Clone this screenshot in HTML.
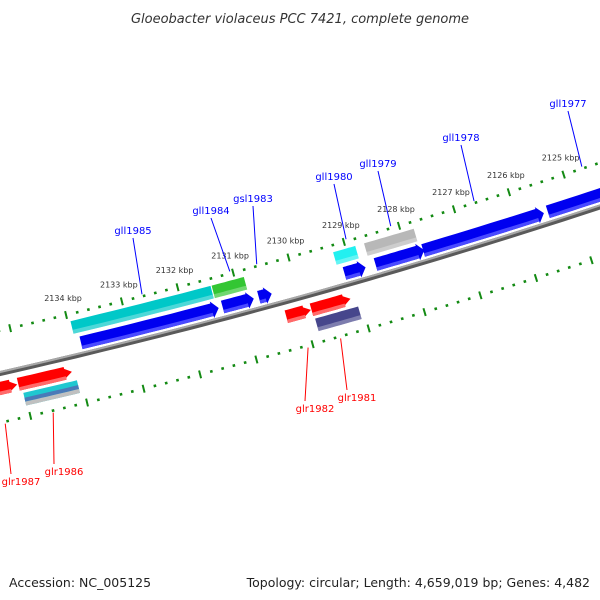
<!DOCTYPE html>
<html><head><meta charset="utf-8"><style>
html,body{margin:0;padding:0;background:#fff}
svg{display:block}
text{font-family:"DejaVu Sans","Liberation Sans",sans-serif}
</style></head><body>
<svg id="map" width="600" height="600" viewBox="0 0 600 600" xmlns="http://www.w3.org/2000/svg">
<defs>
<linearGradient id="bbg" x1="0" y1="0" x2="0" y2="1"><stop offset="0" stop-color="#cfcfcf"/><stop offset="1" stop-color="#555"/></linearGradient>
</defs>
<text x="300" y="23" text-anchor="middle" font-size="13" font-style="italic" fill="#333">Gloeobacter violaceus PCC 7421, complete genome</text>
<g id="layer"></g>
<text x="9" y="587" font-size="12.5" fill="#222">Accession: NC_005125</text>
<text x="590" y="587" font-size="12.5" text-anchor="end" fill="#222">Topology: circular; Length: 4,659,019 bp; Genes: 4,482</text>
</svg>
<script>
// data
const upperTicksMin = 2123;
const upperTicksMax = 2137;
const tickLabels = [2125,2126,2127,2128,2129,2130,2131,2132,2133,2134];
const geneNames = ["gll1977","gll1978","gll1979","gll1980","gsl1983","gll1984","gll1985","glr1987","glr1986","glr1982","glr1981"];
const geneStart = [2125.46,2127.72,2128.58,2129.14,2130.68,2131.33,2133.86,2135.8,2135.08,2130.31,2129.86];
const geneEnd   = [2123.85,2125.53,2127.70,2128.76,2130.45,2130.77,2131.40,2135.1,2134.13,2129.87,2129.16];
const geneStrand = [1,1,1,1,1,1,1,-1,-1,-1,-1];
const labelX = [568,461,378,334,253,211,133,21,64,315,357];
const labelY = [107,141,167,180,202,214,234,485,475,412,401];
const featStart = [2133.95,2131.42,2129.23,2128.67,2135.03,2129.84];
const featEnd   = [2131.44,2130.84,2128.83,2127.77,2134.08,2129.07];
const featRow   = [1,1,1,1,-1,-1];
const featColor = ["#00c8c8","#33c633","#22f0f0","#b8b8b8","#20c8d0","#46468c"];

// geometry (circle arc)
const CX=-1464, CY=-6062, R=6600, PHI0=74.5, DEG_PER_KBP=0.502;
function pt(k,d){const a=(PHI0+(k-2130)*DEG_PER_KBP)*Math.PI/180;const r=R+d;return [CX+r*Math.cos(a),CY+r*Math.sin(a)];}
const layer=document.getElementById('layer');
const NS='http://www.w3.org/2000/svg';
function mk(tag,attrs){const e=document.createElementNS(NS,tag);for(const k in attrs)e.setAttribute(k,attrs[k]);layer.appendChild(e);return e;}
function arcPts(k1,k2,d,n){const a=[];for(let i=0;i<=n;i++){a.push(pt(k1+(k2-k1)*i/n,d));}return a;}
function poly(points){return points.map(p=>p[0].toFixed(1)+','+p[1].toFixed(1)).join(' ');}

// backbone
let bb=arcPts(2137,2122,0,60);
let e=mk('polyline',{points:poly(bb),fill:'none',stroke:'#5a5a5a','stroke-width':5});


e=mk('polyline',{points:poly(arcPts(2137,2122,-1.5,60)),fill:'none',stroke:'#a8a8a8','stroke-width':2});



// ticks
function tickRow(d,labels,rowName){
  for(let i=upperTicksMin*5;i<=upperTicksMax*5;i++){
    const k=i/5;
    const major=(i%5===0);
    const h=major?4:1.3;
    const p1=pt(k,d-h),p2=pt(k,d+h);
    const t=mk('line',{x1:p1[0],y1:p1[1],x2:p2[0],y2:p2[1],stroke:'#138a13','stroke-width':major?2:2.6});
    
    
    if(labels && major && tickLabels.indexOf(k)>=0){
      const p=pt(k,d);
      const tx=mk('text',{x:p[0]-3,y:p[1]-14,'font-size':8,'text-anchor':'middle',fill:'#333'});
      tx.textContent=k+' kbp';
      
      
    }
  }
}
tickRow(-42,true,'forward-scale');
tickRow(48,false,'reverse-scale');

// gene arrows
const geneColor={1:'#0000ee',"-1":'#ff0000'};
for(let i=0;i<geneNames.length;i++){
  const s=geneStrand[i];
  const din=s>0?-5:8, dout=s>0?-18:21;
  const a=geneStart[i], b=geneEnd[i];
  const head=0.12*Math.sign(b-a);
  const bodyEnd=Math.abs(b-a)>0.2? b-head : a+(b-a)*0.5;
  const top=arcPts(a,bodyEnd,dout,10);
  const bot=arcPts(bodyEnd,a,din,10);
  const pts=top.concat([pt(bodyEnd,dout-2),pt(b,(din+dout)/2),pt(bodyEnd,din+2)]).concat(bot);
  const g=mk('polygon',{points:poly(pts),fill:s>0?'#0000f0':'#ff0000'});
  
  
  const lo=s>0?din:dout, li=s>0?din-3.5:dout-3.5;
  const sh=mk('polygon',{points:poly(arcPts(a,bodyEnd,lo,10).concat(arcPts(bodyEnd,a,li,10))),fill:s>0?'#4a4aff':'#ff6a6a'});
  
  
  // label
  const tip=s>0?pt((a+b)/2,-44):pt((a+b)/2,50);
  const lx=labelX[i], ly=labelY[i];
  const ln=mk('line',{x1:s>0?lx:lx-10,y1:s>0?ly+4:ly-11,x2:tip[0],y2:tip[1],stroke:s>0?'#0000ff':'#ff0000','stroke-width':1});
  
  
  const tx=mk('text',{x:lx,y:ly,'font-size':10,'text-anchor':'middle',fill:s>0?'#0000ff':'#ff0000'});
  tx.textContent=geneNames[i];
  
  
}

// feature bars (second row)
for(let i=0;i<featStart.length;i++){
  const r=featRow[i];
  const d1=r>0?-35:24, d2=r>0?-22:37;
  const a=featStart[i], b=featEnd[i];
  const f=mk('polygon',{points:poly(arcPts(a,b,d1,10).concat(arcPts(b,a,d2,10))),fill:featColor[i]});
  
  
  if(i===4){
    const f2=mk('polygon',{points:poly(arcPts(a,b,29,10).concat(arcPts(b,a,33,10))),fill:'#4a7ab8'});
    
    
    const f3=mk('polygon',{points:poly(arcPts(a,b,33,10).concat(arcPts(b,a,37,10))),fill:'#c0c0c0'});
    
    
  } else {
    const hl=mk('polygon',{points:poly(arcPts(a,b,d2-4,10).concat(arcPts(b,a,d2,10))),fill:'#ffffff','fill-opacity':0.3});
    
    
  }
}
</script>
</body></html>
